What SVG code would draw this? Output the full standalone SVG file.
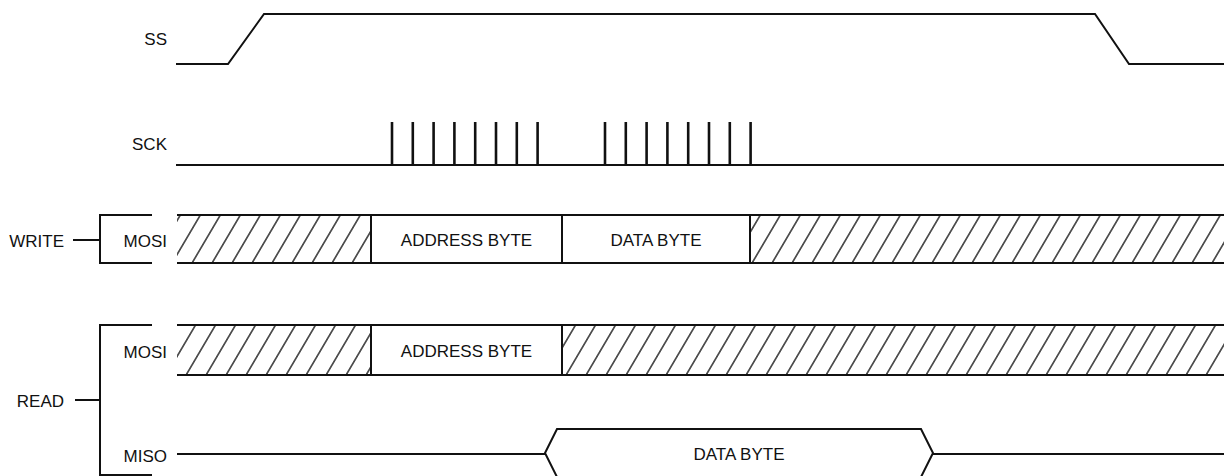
<svg xmlns="http://www.w3.org/2000/svg" width="1224" height="476" viewBox="0 0 1224 476">
<style>
.lbl{font-family:"Liberation Sans",Arial,sans-serif;font-size:17px;fill:#111}
.r{text-anchor:end}
.m{text-anchor:middle}
.w{fill:none;stroke:#111;stroke-width:2;stroke-linejoin:miter}
.p{stroke:#111;stroke-width:2.6}
.h{fill:url(#hatch);stroke:none}
</style>
<defs>
<pattern id="hatch" patternUnits="userSpaceOnUse" width="20" height="20" patternTransform="skewX(-30.5)">
<line x1="7" y1="-1" x2="7" y2="21" stroke="#111" stroke-width="1.5"/>
</pattern>
</defs>
<rect width="1224" height="476" fill="#fff"/>

<g id="ss">
<text class="lbl r" x="167" y="45">SS</text>
<polyline class="w" points="176,64 228,64 264,14 1095,14 1129,64 1224,64"/>
</g>

<g id="sck">
<text class="lbl r" x="167" y="150">SCK</text>
<line class="w" x1="176" y1="165" x2="1224" y2="165"/>
<g class="p">
<line x1="392" y1="122" x2="392" y2="165"/>
<line x1="412.8" y1="122" x2="412.8" y2="165"/>
<line x1="433.6" y1="122" x2="433.6" y2="165"/>
<line x1="454.4" y1="122" x2="454.4" y2="165"/>
<line x1="475.2" y1="122" x2="475.2" y2="165"/>
<line x1="496" y1="122" x2="496" y2="165"/>
<line x1="516.8" y1="122" x2="516.8" y2="165"/>
<line x1="537.6" y1="122" x2="537.6" y2="165"/>
<line x1="605" y1="122" x2="605" y2="165"/>
<line x1="625.8" y1="122" x2="625.8" y2="165"/>
<line x1="646.6" y1="122" x2="646.6" y2="165"/>
<line x1="667.4" y1="122" x2="667.4" y2="165"/>
<line x1="688.2" y1="122" x2="688.2" y2="165"/>
<line x1="709" y1="122" x2="709" y2="165"/>
<line x1="729.8" y1="122" x2="729.8" y2="165"/>
<line x1="750.6" y1="122" x2="750.6" y2="165"/>
</g>
</g>

<g id="write">
<text class="lbl r" x="64" y="247">WRITE</text>
<line class="w" x1="73" y1="240" x2="100" y2="240"/>
<polyline class="w" points="152,215 100,215 100,263 152,263"/>
</g>

<g id="write-mosi">
<text class="lbl r" x="167" y="247">MOSI</text>
<rect class="h" x="177" y="215" width="194" height="48"/>
<rect class="h" x="750" y="215" width="474" height="48"/>
<line class="w" x1="177" y1="215" x2="1224" y2="215"/>
<line class="w" x1="177" y1="263" x2="1224" y2="263"/>
<line class="w" x1="371" y1="215" x2="371" y2="263"/>
<line class="w" x1="562" y1="215" x2="562" y2="263"/>
<line class="w" x1="750" y1="215" x2="750" y2="263"/>
<text class="lbl m" x="466.5" y="246">ADDRESS BYTE</text>
<text class="lbl m" x="656" y="246">DATA BYTE</text>
</g>

<g id="read">
<text class="lbl r" x="64" y="407">READ</text>
<line class="w" x1="75" y1="400" x2="100" y2="400"/>
<polyline class="w" points="152,325 100,325 100,475 152,475"/>
</g>

<g id="read-mosi">
<text class="lbl r" x="167" y="358">MOSI</text>
<rect class="h" x="177" y="325" width="194" height="50"/>
<rect class="h" x="562" y="325" width="662" height="50"/>
<line class="w" x1="177" y1="325" x2="1224" y2="325"/>
<line class="w" x1="177" y1="375" x2="1224" y2="375"/>
<line class="w" x1="371" y1="325" x2="371" y2="375"/>
<line class="w" x1="562" y1="325" x2="562" y2="375"/>
<text class="lbl m" x="466.5" y="357">ADDRESS BYTE</text>
</g>

<g id="read-miso">
<text class="lbl r" x="167" y="462">MISO</text>
<polyline class="w" points="177,454 545,454"/>
<polyline class="w" points="557,477 545,453 557,429 921,429 933,453 921,477"/>
<polyline class="w" points="933,454 1224,454"/>
<text class="lbl m" x="739" y="460">DATA BYTE</text>
</g>
</svg>
